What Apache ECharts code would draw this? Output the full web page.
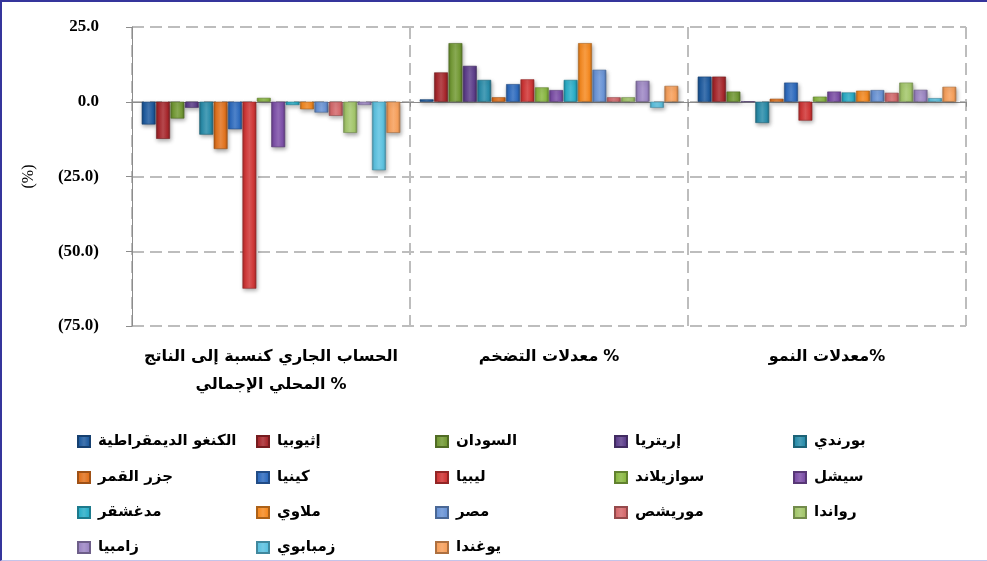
<!DOCTYPE html>
<html>
<head>
<meta charset="utf-8">
<script src="https://cdn.jsdelivr.net/npm/echarts@6/dist/echarts.min.js"></script>
<style>
html,body{margin:0;padding:0;background:#fff;}
#c{position:absolute;left:0;top:0;width:987px;height:561px;}
#frame{position:absolute;left:0;top:0;width:985px;height:558px;border-top:2px solid #35359c;border-left:2px solid #35359c;border-bottom:1px solid #c4c4ea;pointer-events:none;}
</style>
</head>
<body>
<div id="c"></div>
<div id="frame"></div>
<script>
// Categories (x axis)
const categories = [
  'الحساب الجاري كنسبة إلى الناتج\nالمحلي الإجمالي %',
  'معدلات التضخم %',
  'معدلات النمو%'
];
// Series names
const countries = [
  'الكنغو الديمقراطية', 'إثيوبيا', 'السودان', 'إريتريا', 'بورندي',
  'جزر القمر', 'كينيا', 'ليبيا', 'سوازيلاند', 'سيشل',
  'مدغشقر', 'ملاوي', 'مصر', 'موريشص', 'رواندا',
  'زامبيا', 'زمبابوي', 'يوغندا'
];
// Values per indicator (current account, inflation, growth), order of countries
const currentAccount = [-7.6, -12.4, -5.6, -2.0, -11.0, -15.8, -9.2, -62.5, 1.3, -15.2, -1.1, -2.5, -3.6, -4.7, -10.4, -1.1, -22.9, -10.4];
const inflation      = [0.8, 9.8, 19.6, 12.0, 7.3, 1.5, 5.9, 7.5, 4.8, 3.9, 7.3, 19.6, 10.7, 1.5, 1.5, 7.0, -2.0, 5.3];
const growth         = [8.4, 8.4, 3.4, 0.0, -7.1, 1.0, 6.4, -6.3, 1.7, 3.4, 3.1, 3.7, 3.9, 3.0, 6.4, 4.0, 1.2, 5.0];
// y-axis ticks
const yMin = -75, yMax = 25, yStep = 25;

const colors = [
  '#1f5ca0', '#a8282d', '#739a35', '#5e3f8c', '#2a8daa',
  '#e2731f', '#2f6cbf', '#d03636', '#8ab843', '#7d50a8',
  '#2aaec8', '#f58a22', '#6a94d6', '#d56a6d', '#a3c66b',
  '#9d87c4', '#5dc2e0', '#f7a05c'
];

function shade(hex, f) {
  const n = parseInt(hex.slice(1), 16);
  let r = (n >> 16) & 255, g = (n >> 8) & 255, b = n & 255;
  if (f < 0) { r = r * (1 + f); g = g * (1 + f); b = b * (1 + f); }
  else { r = r + (255 - r) * f; g = g + (255 - g) * f; b = b + (255 - b) * f; }
  return 'rgb(' + Math.round(r) + ',' + Math.round(g) + ',' + Math.round(b) + ')';
}
function grad(hex) {
  return new echarts.graphic.LinearGradient(0, 0, 1, 0, [
    {offset: 0, color: shade(hex, -0.25)},
    {offset: 0.18, color: hex},
    {offset: 0.5, color: shade(hex, 0.15)},
    {offset: 0.82, color: hex},
    {offset: 1, color: shade(hex, -0.25)}
  ]);
}

const arabicFont = '"DejaVu Sans", sans-serif';
const series = countries.map((name, i) => ({
  name: name,
  type: 'bar',
  xAxisIndex: 0,
  barGap: '4%',
  barCategoryGap: '7%',
  data: [currentAccount[i], inflation[i], growth[i]],
  itemStyle: {
    color: grad(colors[i]),
    borderColor: shade(colors[i], -0.3),
    borderWidth: 0.6,
    shadowColor: 'rgba(0,0,0,0.35)',
    shadowBlur: 4,
    shadowOffsetX: 1,
    shadowOffsetY: 2
  }
}));

const rowCenters = [443, 479, 514, 549];
const legends = countries.map((name, i) => ({
  data: [name],
  left: 77 + (i % 5) * 179,
  top: rowCenters[Math.floor(i / 5)] - 9,
  padding: 0,
  itemWidth: 12,
  itemHeight: 11,
  icon: 'rect',
  itemGap: 8,
  textStyle: {fontFamily: arabicFont, fontWeight: 'bold', fontSize: 15, color: '#000', padding: [0, 0, 0, 3]}
}));

// keep a trailing "%" visually at the right end of each label line
function catFormatter(v) {
  return v.split('\n').map(line => {
    const m = line.match(/^(.*?)(\s*%)$/);
    if (m) {
      const sp = m[2].length > 1 ? '{s|}' : '';
      return '{t|' + m[1] + '}' + sp + '{t|%}';
    }
    return '{t|' + line + '}';
  }).join('\n');
}
const labelStyle = {fontFamily: arabicFont, fontWeight: 'bold', fontSize: 16, color: '#000', lineHeight: 28};

const chart = echarts.init(document.getElementById('c'), null, {renderer: 'canvas'});
chart.setOption({
  animation: false,
  backgroundColor: '#fff',
  grid: {left: 132, right: 21, top: 27, bottom: 235, containLabel: false},
  legend: legends,
  xAxis: [
    {
      type: 'category',
      data: categories,
      position: 'bottom',
      axisLine: {show: false, onZero: false},
      axisTick: {show: false},
      axisLabel: {
        interval: 0,
        margin: 17,
        lineHeight: 28,
        formatter: catFormatter,
        rich: {
          t: labelStyle,
          s: {width: 5, lineHeight: 28}
        }
      },
      splitLine: {show: true, lineStyle: {color: '#bdbdbd', width: 2, type: [12, 6]}}
    },
    {
      type: 'category',
      data: categories,
      position: 'bottom',
      axisLine: {show: true, onZero: true, lineStyle: {color: '#8c8c8c', width: 1}},
      axisTick: {show: true, length: 5, lineStyle: {color: '#8c8c8c'}},
      axisLabel: {show: false},
      splitLine: {show: false}
    }
  ],
  yAxis: {
    type: 'value',
    min: yMin, max: yMax, interval: yStep,
    name: '(%)',
    nameLocation: 'middle',
    nameRotate: 90,
    nameGap: 95,
    nameTextStyle: {fontFamily: '"Liberation Serif", serif', fontSize: 16, color: '#000'},
    axisLine: {show: true, lineStyle: {color: '#8c8c8c', width: 1}},
    axisTick: {show: true, length: 6, lineStyle: {color: '#8c8c8c'}},
    axisLabel: {
      margin: 33,
      fontFamily: '"Liberation Serif", serif', fontWeight: 'bold', fontSize: 17, color: '#000',
      formatter: v => v < 0 ? '(' + Math.abs(v).toFixed(1) + ')' : v.toFixed(1)
    },
    splitLine: {show: true, lineStyle: {color: '#bdbdbd', width: 2, type: [12, 6]}}
  },
  series: series
});
</script>
</body>
</html>
